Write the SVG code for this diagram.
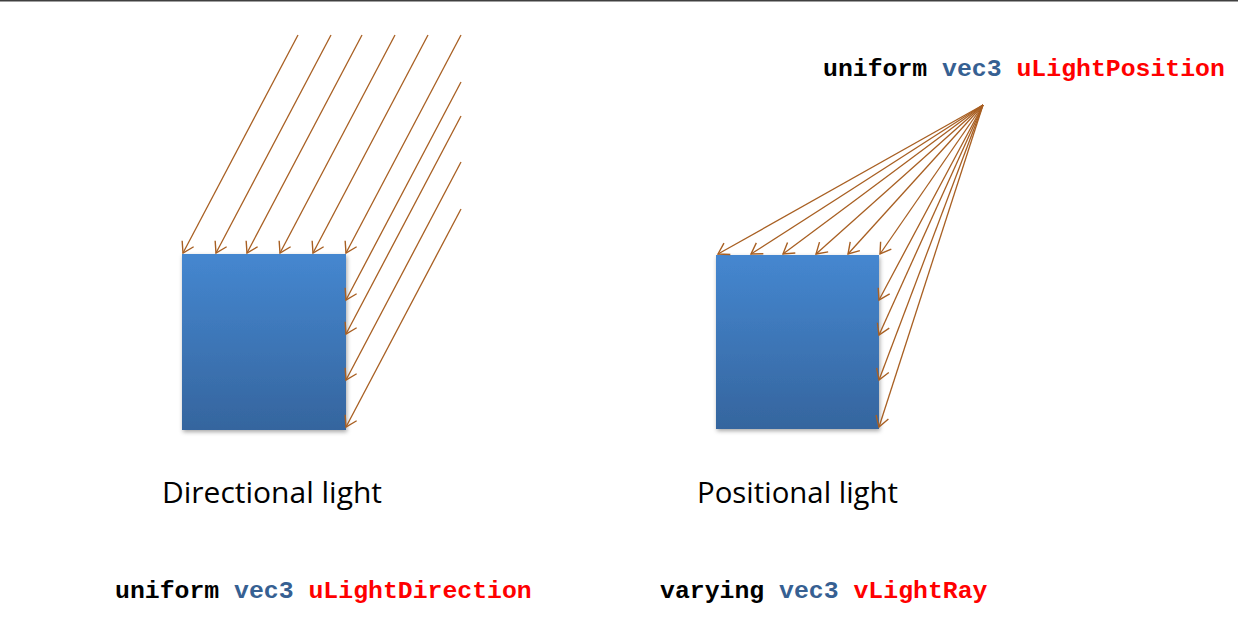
<svg xmlns="http://www.w3.org/2000/svg" width="1238" height="626" viewBox="0 0 1238 626">
  <style>
    .ray { stroke: #a85f22; stroke-width: 1.3; fill: none; marker-end: url(#arrow); }
    .code { font-family: "Liberation Mono", "Courier New", monospace; font-weight: bold; font-size: 24.8px; }
    .kw { fill: #000000; }
    .ty { fill: #366092; }
    .id { fill: #ff0000; }
    .label { font-family: "Open Sans", "Noto Sans", sans-serif; font-size: 29px; fill: #000000; }
    .box { fill: url(#boxGrad); filter: url(#shadow); }
  </style>
  <defs>
    <linearGradient id="boxGrad" x1="0" y1="0" x2="0" y2="1">
      <stop offset="0" stop-color="#4587d0"/>
      <stop offset="1" stop-color="#35659e"/>
    </linearGradient>
    <filter id="shadow" x="-10%" y="-10%" width="125%" height="125%">
      <feDropShadow dx="1" dy="2" stdDeviation="2" flood-color="#000000" flood-opacity="0.35"/>
    </filter>
    <marker id="arrow" markerUnits="userSpaceOnUse" markerWidth="18" markerHeight="18" viewBox="-14 -9 18 18" refX="0" refY="0" orient="auto">
      <path d="M-10.5,-6.5 L0,0 L-10.5,6.5" fill="none" stroke="#a85f22" stroke-width="1.4"/>
    </marker>
  </defs>
  <rect x="0" y="0" width="1238" height="626" fill="#ffffff"/>
  <rect x="0" y="0" width="1238" height="1.5" fill="#404040"/>

  <g id="directional-box">
    <rect class="box" x="182" y="254" width="164" height="176"/>
  </g>
  <g id="positional-box">
    <rect class="box" x="716" y="255" width="163" height="174"/>
  </g>

  <g id="connectors">
    <!-- directional light rays -->
    <line class="ray" x1="298" y1="35" x2="183" y2="253"/>
    <line class="ray" x1="331" y1="35" x2="216" y2="253"/>
    <line class="ray" x1="362" y1="35" x2="247" y2="253"/>
    <line class="ray" x1="395" y1="35" x2="280" y2="253"/>
    <line class="ray" x1="428" y1="35" x2="313" y2="253"/>
    <line class="ray" x1="461" y1="35" x2="346" y2="253"/>
    <line class="ray" x1="461" y1="82" x2="346" y2="300"/>
    <line class="ray" x1="461" y1="116" x2="346" y2="334"/>
    <line class="ray" x1="461" y1="162" x2="346" y2="380"/>
    <line class="ray" x1="461" y1="209" x2="346" y2="427"/>
    <!-- positional light rays -->
    <line class="ray" x1="983" y1="105" x2="718" y2="254"/>
    <line class="ray" x1="983" y1="105" x2="751" y2="254"/>
    <line class="ray" x1="983" y1="105" x2="783" y2="254"/>
    <line class="ray" x1="983" y1="105" x2="816" y2="254"/>
    <line class="ray" x1="983" y1="105" x2="848" y2="254"/>
    <line class="ray" x1="983" y1="105" x2="880" y2="254"/>
    <line class="ray" x1="983" y1="105" x2="879" y2="300"/>
    <line class="ray" x1="983" y1="105" x2="879" y2="335"/>
    <line class="ray" x1="983" y1="105" x2="879" y2="380"/>
    <line class="ray" x1="983" y1="105" x2="879" y2="427"/>
  </g>

  <g id="text-light-position">
    <text class="code" x="823" y="76" xml:space="preserve"><tspan class="kw">uniform</tspan> <tspan class="ty">vec3</tspan> <tspan class="id">uLightPosition</tspan></text>
  </g>
  <g id="text-directional-label">
    <text class="label" x="162" y="503" textLength="220" lengthAdjust="spacingAndGlyphs">Directional light</text>
  </g>
  <g id="text-positional-label">
    <text class="label" x="697" y="503" textLength="201" lengthAdjust="spacingAndGlyphs">Positional light</text>
  </g>
  <g id="text-light-direction">
    <text class="code" x="115" y="598" xml:space="preserve"><tspan class="kw">uniform</tspan> <tspan class="ty">vec3</tspan> <tspan class="id">uLightDirection</tspan></text>
  </g>
  <g id="text-light-ray">
    <text class="code" x="660" y="598" xml:space="preserve"><tspan class="kw">varying</tspan> <tspan class="ty">vec3</tspan> <tspan class="id">vLightRay</tspan></text>
  </g>
</svg>
